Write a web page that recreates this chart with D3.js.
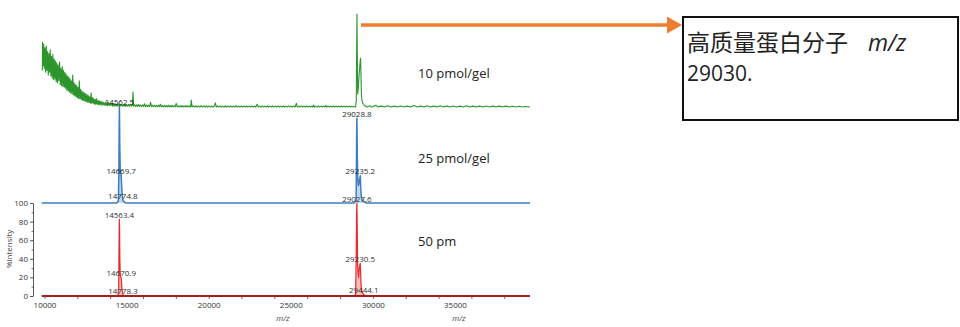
<!DOCTYPE html>
<html>
<head>
<meta charset="utf-8">
<script src="https://cdn.jsdelivr.net/npm/d3@7/dist/d3.min.js"></script>
<style>
  html, body { margin: 0; padding: 0; background: #fff; }
  svg { display: block; }
  .tick text { font-family: "Open Sans", "Liberation Sans", sans-serif; fill: #333; }
</style>
</head>
<body>
<svg id="chart" width="960" height="327"></svg>
<script>
// ---- Data -------------------------------------------------------------
// Stacked MALDI spectra: m/z vs relative intensity (%)

// 10 pmol/gel (green): noisy low-mass region plus the 29 kDa cluster
const green10 = [
  [9870,40],[9880,70],[9920,45],[9950,68],[9990,42],[10030,64],[10070,38],[10110,66],[10150,40],
  [10190,60],[10230,35],[10270,58],[10310,38],[10350,62],[10390,34],[10430,55],[10470,32],[10510,57],[10550,30],
  [10590,52],[10630,31],[10670,50],[10710,28],[10750,48],[10790,27],[10830,46],[10870,29],[10920,49],[10960,25],
  [11000,42],[11040,24],[11080,44],[11120,23],[11160,40],[11200,22],[11240,38],[11280,21],[11320,36],[11360,19],
  [11400,34],[11440,18],[11480,33],[11520,17],[11560,31],[11600,16],[11640,29],[11680,15],[11720,35],[11760,14],
  [11800,27],[11840,13],[11880,25],[11920,12],[11960,24],[12000,11],[12040,22],[12080,10],[12120,29],[12160,10],
  [12200,20],[12240,9],[12280,18],[12320,8],[12360,17],[12400,8],[12440,16],[12480,7],[12520,15],[12560,7],
  [12600,14],[12640,6],[12680,13],[12720,6],[12760,12],[12800,5],[12840,16],[12880,5],[12920,11],[12960,5],
  [13000,10],[13040,4],[13080,9],[13120,4],[13160,10],[13200,4],[13240,8],[13280,3.5],[13320,8],[13360,3.5],
  [13400,7],[13450,3],[13500,7],[13550,3],[13600,6],[13650,3],[13700,6],[13750,2.5],[13800,5.5],[13850,2.5],
  [13900,6],[13950,2.5],[14000,5],[14050,2.5],[14100,5],[14150,2],[14200,4.5],[14250,2],[14300,5],[14350,2],
  [14400,4],[14450,2],[14500,4.5],[14550,2],[14600,4],[14650,2],[14700,4],[14750,2],[14800,3.5],[14850,1.8],
  [14900,4],[14950,1.8],[15000,3.5],[15060,1.8],[15120,3.5],[15180,1.8],[15240,4],[15300,2],[15350,3],[15390,17],
  [15430,2],[15500,3.5],[15560,1.6],[15620,3.5],[15680,1.6],[15740,4],[15800,1.6],[15860,3],[15920,1.5],[15980,3.5],
  [16040,1.5],[16100,4.5],[16160,1.5],[16220,3],[16280,1.5],[16340,3],[16400,1.4],[16460,6],[16520,1.4],[16580,3],
  [16640,1.4],[16700,3],[16760,1.4],[16820,2.8],[16880,1.3],[16940,3],[17000,1.3],[17060,4],[17120,1.3],[17180,2.5],
  [17240,1.3],[17300,3],[17360,1.2],[17420,2.5],[17480,1.2],[17540,3],[17600,1.2],[17660,2.5],[17720,1.2],[17780,2.8],
  [17840,1.2],[17900,2.4],[17960,1.2],[18020,5],[18080,1.2],[18140,2.4],[18200,1.1],[18260,2.4],[18320,1.1],[18380,2.5],
  [18440,1.1],[18500,2.3],[18560,1.1],[18620,2.5],[18680,1.1],[18740,2.3],[18800,1.1],[18860,2.4],[18900,1.1],[18940,8.5],
  [18990,1.1],[19060,2.3],[19140,1],[19220,2.4],[19300,1],[19380,2.2],[19460,1],[19540,2.5],[19620,1],[19700,2.2],
  [19780,1],[19860,2.4],[19940,1],[20020,2.2],[20100,1],[20180,2.3],[20260,1],[20340,2],[20410,5.5],[20460,1],
  [20540,2.2],[20620,1],[20700,2.3],[20780,1],[20860,2],[20940,1],[21020,2.4],[21100,1],[21180,2],[21260,1],
  [21340,2.2],[21420,1],[21500,2],[21580,1],[21660,2.5],[21740,1],[21820,2],[21900,1],[21980,2.2],[22060,1],
  [22140,2],[22220,1],[22300,2.3],[22380,1],[22460,2],[22540,1],[22620,2.2],[22700,1],[22780,2],[22860,1],
  [22950,4],[23020,1],[23100,2],[23180,1],[23260,2.2],[23340,1],[23420,2],[23500,1],[23580,2.3],[23660,1],
  [23740,2],[23820,1],[23900,2.2],[23980,1],[24060,2],[24140,1],[24220,2.2],[24300,1],[24380,2],[24460,1],
  [24540,2.3],[24620,1],[24700,2],[24780,1],[24860,2.2],[24940,1],[25020,2],[25100,1],[25180,2.2],[25260,1],
  [25340,5],[25400,1],[25480,2],[25560,1],[25640,2.2],[25720,1],[25800,2],[25880,1],[25960,2.2],[26040,1],
  [26120,2],[26200,1],[26280,2],[26340,1],[26390,3.2],[26440,1],[26520,2],[26600,1],[26680,2.2],[26760,1],
  [26840,2],[26920,1],[27000,2],[27080,1],[27140,2.8],[27200,1],[27280,2],[27360,1],[27440,2],[27520,1],
  [27600,2.2],[27680,1],[27760,2],[27840,1],[27920,2],[28000,1],[28080,2.1],[28160,1],[28240,2],[28320,1],
  [28400,2],[28480,1],[28560,2],[28640,1],[28720,1.8],[28800,1],[28880,1.5],[28950,1.5],[28990,8],[29010,60],
  [29030,100],[29050,60],[29075,15],[29110,20],[29160,35],[29220,48],[29250,53],[29275,35],[29300,15],[29330,9],
  [29370,6],[29420,4],[29470,3],[29530,2],[29600,1.5],[29700,1.2],[29800,2.5],[29900,1],[30000,1.5],[30200,2.8],
  [30300,1],[30500,2],[30700,1],[30900,2.5],[31100,1],[31300,2],[31500,1],[31700,2.2],[31900,1],[32100,2],
  [32300,1],[32500,2.6],[32700,1],[32900,2],[33100,1],[33300,2.3],[33500,1],[33700,2],[33900,1],[34100,2.4],
  [34300,1],[34500,2],[34700,1],[34900,2.2],[35100,1],[35300,2],[35500,1],[35700,2.5],[35900,1],[36100,2],
  [36300,1],[36500,2],[36700,1],[36900,2.2],[37100,1],[37300,2],[37500,1],[37700,2],[37900,1],[38100,2],
  [38300,1],[38500,1.8],[38700,1],[38900,1.8],[39100,1],[39300,1.6],[39570,1]
];

// 25 pmol/gel (blue)
const blue25 = [
  [9830,0],[14400,0],[14500,2],[14530,30],[14545,70],[14562.5,100],[14575,80],[14585,60],[14610,35],[14640,30],[14669.7,28.8],
  [14700,18],[14740,7],[14774.8,2.9],[14820,2],[14900,0.5],[15000,0],
  [28850,0],[28980,3],[29000,40],[29015,75],[29028.8,87.3],[29040,70],[29055,45],[29080,25],[29120,18],[29170,22],[29210,26],
  [29235.2,28],[29260,15],[29300,6],[29350,3],[29420,2],[29500,1],[29600,0],[39570,0]
];

// 50 pmol/gel (red)
const red50 = [
  [9830,0],[14400,0],[14480,1],[14520,10],[14535,45],[14550,75],[14563.4,82.5],[14575,70],[14590,40],[14610,25],[14630,21],[14650,20],
  [14670.9,19.6],[14690,15],[14720,8],[14750,4],[14778.3,1],[14810,0.8],[14860,0.4],[14950,0],
  [28850,0],[28950,2],[28985,40],[29005,88],[29027.6,100],[29045,75],[29070,35],[29100,25],[29130,20],[29160,28],
  [29200,33],[29230.5,35],[29255,25],[29280,12],[29320,6],[29380,3],[29444.1,1.5],[29500,1],[29600,0.5],[29700,0],[39570,0]
];

// Annotated peaks: [m/z, intensity, label]
const bluePeakLabels = [
  [14562.5, 100, "14562.5"], [14669.7, 28.8, "14669.7"], [14774.8, 2.9, "14774.8"],
  [29028.8, 87.3, "29028.8"], [29235.2, 28, "29235.2"]
];
const redPeakLabels = [
  [14563.4, 82.5, "14563.4"], [14670.9, 19.6, "14670.9"], [14778.3, 1, "14778.3"],
  [29027.6, 100, "29027.6"], [29230.5, 35, "29230.5"], [29444.1, 1.5, "29444.1"]
];

const sampleLabels = ["10 pmol/gel", "25 pmol/gel", "50 pm"];
const xTickLabels = [10000, 15000, 20000, 25000, 30000, 35000];
const xMinorTicks = [10000, 12000, 14000, 16000, 18000, 20000, 22000, 24000, 26000, 28000, 30000, 32000, 34000, 36000, 38000];
const yTicks = [0, 20, 40, 60, 80, 100];
const yMinorTicks = [10, 30, 50, 70, 90];
const calloutLines = ["高质量蛋白分子", "29030."];

// ---- Layout -----------------------------------------------------------
const svg = d3.select("#chart");

const x = d3.scaleLinear().domain([9830, 39570]).range([41.7, 530]);
const yGreen = d3.scaleLinear().domain([0, 100]).range([108, 14]);
const yBlue  = d3.scaleLinear().domain([0, 100]).range([203, 106]);
const yRed   = d3.scaleLinear().domain([0, 100]).range([296, 203]);

function drawTrace(data, y, color, fill, width) {
  if (fill) {
    const area = d3.area().x(d => x(d[0])).y0(y(0)).y1(d => y(d[1]));
    svg.append("path").attr("d", area(data)).attr("fill", fill).attr("stroke", "none");
  }
  const line = d3.line().x(d => x(d[0])).y(d => y(d[1]));
  svg.append("path").attr("d", line(data)).attr("fill", "none")
    .attr("stroke", color).attr("stroke-width", width).attr("stroke-linejoin", "round");
}

function drawPeakLabels(list, y, color) {
  svg.append("g").selectAll("text").data(list).join("text")
    .attr("x", d => x(d[0]))
    .attr("y", d => y(d[1]) - 1.5)
    .attr("text-anchor", "middle")
    .attr("font-family", "'Open Sans', 'Liberation Sans', sans-serif")
    .attr("font-size", 8)
    .attr("fill", color)
    .text(d => d[2]);
}

// Spectra (top to bottom)
drawTrace(green10, yGreen, "#2c962c", null, 1.1);
drawTrace(blue25, yBlue, "#3b7dc0", "rgba(59,125,192,0.3)", 1.5);
drawTrace(red50, yRed, "#e8292b", "rgba(232,41,43,0.3)", 1.2);

drawPeakLabels(bluePeakLabels, yBlue, "#2a2a2a");
drawPeakLabels(redPeakLabels, yRed, "#333");

// Bottom x axis: minor tick marks + labels
const xMinor = svg.append("g").attr("transform", "translate(0,296)")
  .call(d3.axisBottom(x).tickValues(xMinorTicks).tickSize(3).tickFormat(""));
xMinor.select(".domain").remove();
xMinor.selectAll(".tick line").attr("stroke", "#666");

const xLab = svg.append("g").attr("transform", "translate(0,296)")
  .call(d3.axisBottom(x).tickValues(xTickLabels).tickSize(0).tickPadding(6).tickFormat(d3.format("d")));
xLab.select(".domain").remove();
xLab.selectAll(".tick text").attr("font-size", 8);

// baseline of the bottom panel doubles as the axis line
svg.append("line")
  .attr("x1", x.range()[0]).attr("x2", x.range()[1])
  .attr("y1", yRed(0)).attr("y2", yRed(0))
  .attr("stroke", "#a3201f").attr("stroke-width", 2);

// Y axis (intensity of the bottom panel)
const yAx = svg.append("g").attr("transform", "translate(33,0)")
  .call(d3.axisLeft(yRed).tickValues(yTicks).tickSize(3).tickSizeOuter(0).tickPadding(2));
yAx.select(".domain").attr("stroke", "#555");
yAx.selectAll(".tick line").attr("stroke", "#555");
yAx.selectAll(".tick text").attr("font-size", 8);
const yMin = svg.append("g").attr("transform", "translate(33,0)")
  .call(d3.axisLeft(yRed).tickValues(yMinorTicks).tickSize(1.5).tickFormat(""));
yMin.select(".domain").remove();
yMin.selectAll(".tick line").attr("stroke", "#777");

svg.append("text")
  .attr("transform", "translate(12,249) rotate(-90)")
  .attr("text-anchor", "middle")
  .attr("font-family", "'Open Sans', 'Liberation Sans', sans-serif")
  .attr("font-size", 8).attr("fill", "#444")
  .text("%Intensity");

// axis titles
[283, 459].forEach(px => {
  svg.append("text").attr("x", px).attr("y", 321)
    .attr("text-anchor", "middle")
    .attr("font-family", "'Open Sans', 'Liberation Sans', sans-serif")
    .attr("font-style", "italic").attr("font-size", 8).attr("fill", "#444")
    .text("m/z");
});

// Sample names
const sampleY = [78, 163, 246];
svg.append("g").selectAll("text").data(sampleLabels).join("text")
  .attr("x", 418).attr("y", (d, i) => sampleY[i])
  .attr("font-family", "'Open Sans', 'Liberation Sans', sans-serif")
  .attr("font-size", 13).attr("fill", "#222")
  .text(d => d);

// Callout arrow from the 29 kDa peak to the note box
const arrowY = 25;
svg.append("line")
  .attr("x1", x(29030) + 4).attr("x2", 670)
  .attr("y1", arrowY).attr("y2", arrowY)
  .attr("stroke", "#ed7d31").attr("stroke-width", 3.5);
svg.append("path")
  .attr("d", `M667,${arrowY - 8.5} L682,${arrowY} L667,${arrowY + 8.5} Z`)
  .attr("fill", "#ed7d31");

svg.append("rect")
  .attr("x", 683).attr("y", 17).attr("width", 275).attr("height", 103)
  .attr("fill", "#fff").attr("stroke", "#111").attr("stroke-width", 2);

// Note text: two separate lines
const line1 = svg.append("text")
  .attr("x", 687).attr("y", 51)
  .attr("font-family", "'Noto Sans CJK SC', 'Noto Sans', sans-serif")
  .attr("font-size", 23).attr("fill", "#222");
line1.append("tspan").text(calloutLines[0]);
line1.append("tspan").attr("dx", 20).attr("font-style", "italic")
  .attr("font-family", "'Open Sans', 'Noto Sans', sans-serif").text("m/z");

svg.append("text")
  .attr("x", 687).attr("y", 81)
  .attr("font-family", "'Open Sans', 'Noto Sans', sans-serif")
  .attr("font-size", 21).attr("fill", "#222")
  .text(calloutLines[1]);
</script>
</body>
</html>
